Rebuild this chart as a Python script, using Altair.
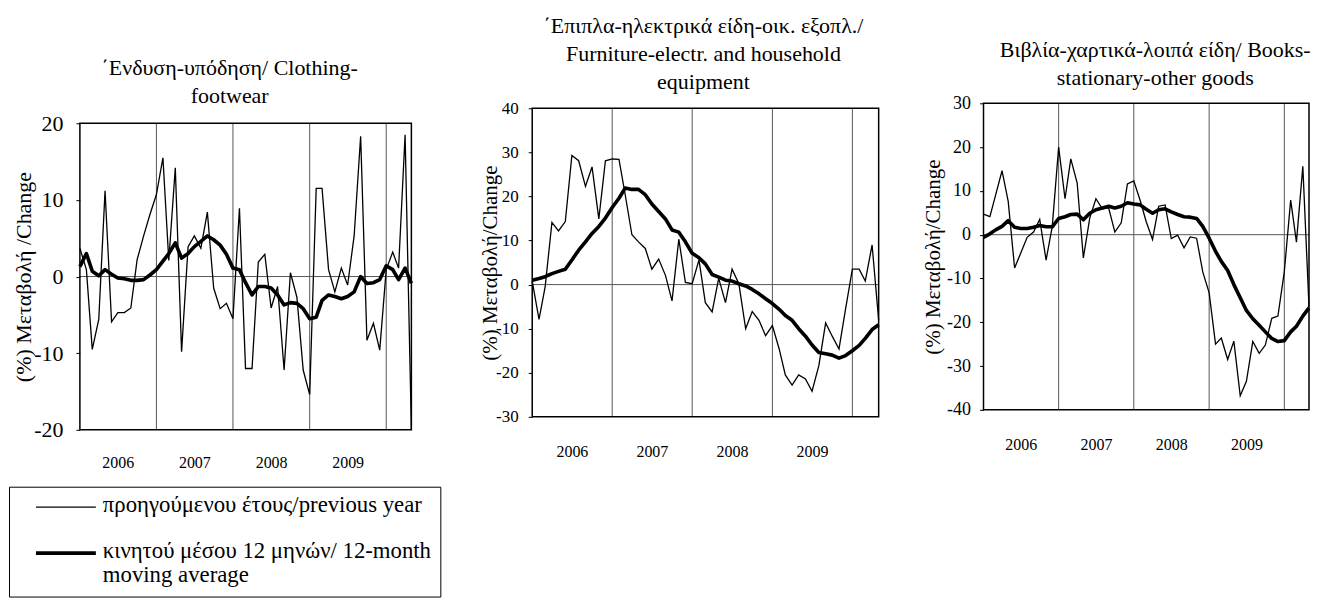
import altair as alt
import pandas as pd

FONT = "Liberation Serif"

# ---------------- data ----------------
MONTHS = list(pd.date_range("2006-01-01", "2010-05-01", freq="MS"))
X_START = "2006-01-01"
X_END = "2010-05-01"
YEAR_BREAKS = ["2007-01-01", "2008-01-01", "2009-01-01", "2010-01-01"]
YEAR_LABELS = [2006, 2007, 2008, 2009]

SERIES = ["προηγούμενου έτους/previous year",
          "κινητού μέσου 12 μηνών/ 12-month moving average"]
SERIES2_LINES = ["κινητού μέσου 12 μηνών/ 12-month", "moving average"]

TITLES = [
    ["΄Ενδυση-υπόδηση/ Clothing-", "footwear"],
    ["΄Επιπλα-ηλεκτρικά είδη-οικ. εξοπλ./", "Furniture-electr. and household", "equipment"],
    ["Βιβλία-χαρτικά-λοιπά είδη/ Books-", "stationary-other goods"],
]
Y_TITLES = ["(%) Μεταβολή /Change", "(%) Μεταβολή/Change", "(%) Μεταβολή/Change"]
Y_TICKS = [[-20, -10, 0, 10, 20],
           [-30, -20, -10, 0, 10, 20, 30, 40],
           [-40, -30, -20, -10, 0, 10, 20, 30]]

CLOTHING_YOY = [3.7, 0.9, -9.5, -5.6, 11.2, -5.9, -4.7, -4.7, -4.1, 2.2,
                5.3, 8.1, 10.7, 15.5, 2.1, 14.2, -9.8, 3.9, 5.3, 3.7,
                8.4, -1.5, -4.2, -3.5, -5.5, 8.9, -12.0, -12.0, 1.9, 2.9,
                -4.1, -1.3, -12.2, 0.5, -2.7, -12.2, -15.4, 11.5, 11.5, 0.9,
                -2.0, 1.1, -1.1, 5.3, 18.3, -8.3, -6.1, -9.6, 0.9, 3.2,
                1.1, 18.5, -20.0]
CLOTHING_MA = [1.3, 3.0, 0.7, 0.1, 0.9, 0.3, -0.2, -0.3, -0.5, -0.5,
               -0.4, 0.2, 0.9, 2.0, 3.0, 4.4, 2.4, 3.0, 3.9, 4.6,
               5.3, 4.8, 4.1, 2.9, 1.1, 0.9, -0.8, -2.4, -1.3, -1.3,
               -1.5, -2.4, -3.7, -3.4, -3.5, -4.2, -5.5, -5.3, -3.1, -2.4,
               -2.6, -2.9, -2.6, -2.0, 0.0, -0.9, -0.8, -0.4, 1.4, 0.9,
               -0.4, 1.1, -0.9]

FURN_YOY = [0.8, -7.9, -0.5, 14.1, 12.2, 14.3, 29.3, 28.1, 22.3, 26.7,
            14.9, 28.1, 28.5, 28.4, 20.5, 11.3, 9.7, 8.2, 3.5, 5.8,
            2.1, -3.7, 10.3, 0.5, 0.2, 5.6, -4.1, -6.2, 1.4, -4.1,
            3.5, 0.2, -10.0, -6.1, -8.1, -11.6, -9.3, -14.6, -20.5, -22.8,
            -20.5, -21.4, -24.2, -18.4, -8.7, -11.7, -14.6, -5.5, 3.5, 3.5,
            0.8, 9.0, -8.1]
FURN_MA = [1.0, 1.4, 1.8, 2.5, 3.0, 3.5, 5.6, 7.8, 9.7, 11.6,
           13.2, 15.1, 17.5, 19.6, 21.9, 21.6, 21.6, 20.4, 18.3, 16.6,
           14.9, 12.4, 11.9, 9.7, 7.1, 6.1, 4.7, 2.3, 1.7, 1.0,
           0.8, 0.2, -0.3, -1.1, -2.1, -3.2, -4.3, -5.6, -7.0, -8.1,
           -10.0, -11.7, -13.7, -15.4, -15.7, -16.0, -16.7, -16.1, -15.0, -13.8,
           -12.2, -10.2, -9.1]

BOOKS_YOY = [4.7, 4.1, 9.1, 14.6, 7.6, -7.6, -4.2, -0.6, 0.6, 3.5,
             -5.8, 1.9, 20.0, 8.2, 17.3, 11.8, -5.3, 3.8, 8.2, 5.9,
             6.1, 0.6, 2.7, 11.6, 12.3, 7.8, 3.0, -1.1, 6.5, 6.8,
             -0.9, -0.1, -3.0, -0.5, -0.8, -8.5, -13.3, -25.0, -23.6, -28.5,
             -24.3, -36.8, -33.5, -24.4, -27.1, -25.2, -19.1, -18.6, -8.5, 7.9,
             -1.7, 15.6, -16.5]
BOOKS_MA = [-0.6, 0.2, 1.1, 1.9, 3.2, 1.7, 1.4, 1.4, 1.7, 2.1,
            1.8, 1.8, 3.7, 4.1, 4.6, 4.7, 3.4, 4.9, 5.7, 6.1,
            6.5, 6.1, 6.5, 7.3, 7.0, 6.8, 5.8, 4.9, 5.7, 5.9,
            5.2, 4.6, 4.1, 4.0, 3.7, 1.9, -0.8, -3.8, -6.1, -8.2,
            -11.4, -14.4, -17.3, -19.2, -20.7, -22.2, -23.7, -24.4, -24.2, -22.2,
            -20.9, -18.6, -16.7]

# ---------------- layout / style ----------------
PANELS = [
    dict(yoy=CLOTHING_YOY, ma=CLOTHING_MA, yrange=(-20, 20), width=332, frame_h=307, view_h=327,
         x_ext_px=0, axis_offset=0, lab_size=22, lab_pad=13, ttl_size=22, ttl_x=-56,
         xlab_pad=33, title_offset=-5, title_dx=-16),
    dict(yoy=FURN_YOY, ma=FURN_MA, yrange=(-30, 40), width=347, frame_h=309, view_h=314,
         x_ext_px=16, axis_offset=-16, lab_size=17, lab_pad=10, ttl_size=21, ttl_x=-42,
         xlab_pad=35, title_offset=5, title_dx=6),
    dict(yoy=BOOKS_YOY, ma=BOOKS_MA, yrange=(-40, 30), width=326, frame_h=307, view_h=307,
         x_ext_px=0, axis_offset=0, lab_size=18, lab_pad=9, ttl_size=21, ttl_x=-50,
         xlab_pad=35, title_offset=4, title_dx=9),
]

LEGEND = alt.Legend(
    title=None, orient="none", legendX=-71, legendY=384,
    symbolType="M-2,-0.3L2,-0.3", symbolSize=900, symbolStrokeColor="black",
    symbolOffset=31,
    labelFont=FONT, labelFontSize=22.8, labelColor="black", labelLimit=700,
    labelBaseline="alphabetic", labelOffset=20,
    labelExpr=(f"datum.label == '{SERIES[1]}' ? "
               f"['{SERIES2_LINES[0]}', '{SERIES2_LINES[1]}'] : datum.label"),
    strokeColor="black", padding=9, rowPadding=23,
)

t0 = pd.Timestamp(X_START)
t1 = pd.Timestamp(X_END)
total_days = (t1 - t0).days


def make_panel(i, p):
    ylo, yhi = p["yrange"]
    unit = p["frame_h"] / (yhi - ylo)
    ytop = yhi + (p["view_h"] - p["frame_h"]) / unit
    days_per_px = total_days / p["width"]
    x_from = t0 - pd.Timedelta(days=round(p["x_ext_px"] * days_per_px))
    xdom = [alt.DateTime(year=x_from.year, month=x_from.month, date=x_from.day),
            alt.DateTime(year=t1.year, month=t1.month, date=t1.day)]
    xs = alt.Scale(domain=xdom)
    ys = alt.Scale(domain=[ylo, ytop], nice=False, zero=False)

    x_axis = alt.Axis(values=[alt.DateTime(year=y, month=7, date=1) for y in YEAR_LABELS],
                      format="%Y", title=None, domain=False, ticks=False, tickSize=0,
                      grid=False, labelPadding=p["xlab_pad"], labelBaseline="middle",
                      labelFontSize=16, labelFont=FONT, labelColor="black")
    y_axis = alt.Axis(values=Y_TICKS[i], title=Y_TITLES[i], domain=False, grid=False,
                      ticks=True, tickSize=4, tickColor="black", offset=p["axis_offset"],
                      labelExpr="'' + datum.value",
                      labelFontSize=p["lab_size"], labelPadding=p["lab_pad"],
                      labelFont=FONT, labelColor="black",
                      titleFont=FONT, titleFontSize=p["ttl_size"], titleFontWeight="normal",
                      titleColor="black", titleBaseline="middle",
                      titleX=p["ttl_x"],
                      titleY=(p["view_h"] - p["frame_h"]) + p["frame_h"] / 2)

    sw = alt.StrokeWidth("series:N", scale=alt.Scale(domain=SERIES, range=[1.3, 3.6]),
                         legend=LEGEND)

    thin = pd.DataFrame({"date": MONTHS, "value": p["yoy"], "series": SERIES[0]})
    thick = pd.DataFrame({"date": MONTHS, "value": p["ma"], "series": SERIES[1]})
    frame_df = pd.DataFrame({"start": [t0], "end": [t1], "lo": [ylo], "hi": [yhi], "zero": [0]})
    years_df = pd.DataFrame({"d": pd.to_datetime(YEAR_BREAKS), "lo": ylo, "hi": yhi})

    def X(field):
        return alt.X(field, scale=xs, axis=x_axis)

    def Y(field):
        return alt.Y(field, scale=ys, axis=y_axis)

    years = alt.Chart(years_df).mark_rule(color="#555", strokeWidth=1).encode(
        x=X("d:T"), y=Y("lo:Q"), y2="hi:Q")
    zero = alt.Chart(frame_df).mark_rule(color="#555", strokeWidth=1).encode(
        x=X("start:T"), x2="end:T", y=Y("zero:Q"))
    line_thin = alt.Chart(thin).mark_line(color="black", strokeJoin="miter").encode(
        x=X("date:T"), y=Y("value:Q"), strokeWidth=sw)
    line_thick = alt.Chart(thick).mark_line(color="black", strokeJoin="round").encode(
        x=X("date:T"), y=Y("value:Q"), strokeWidth=sw)
    frame = alt.Chart(frame_df).mark_rect(fillOpacity=0, stroke="black", strokeWidth=1.5).encode(
        x=X("start:T"), x2="end:T", y=Y("lo:Q"), y2="hi:Q")

    return alt.layer(years, zero, line_thin, line_thick, frame).properties(
        width=p["width"] + p["x_ext_px"], height=p["view_h"],
        title=alt.TitleParams(text=TITLES[i], font=FONT, fontSize=22, fontWeight="normal",
                              color="black", lineHeight=28, anchor="middle", frame="group",
                              offset=p["title_offset"], dx=p["title_dx"]))


panels = [make_panel(i, p) for i, p in enumerate(PANELS)]

chart = alt.hconcat(*panels, spacing=105, bounds="flush").resolve_scale(
    x="independent", y="independent", strokeWidth="shared"
).properties(
    padding={"left": 0, "top": 7, "right": 0, "bottom": 0},
    autosize=alt.AutoSizeParams(type="pad"),
    background="white",
).configure_view(stroke=None)

chart.save("out.html", embed_options={"renderer": "svg", "actions": False})
